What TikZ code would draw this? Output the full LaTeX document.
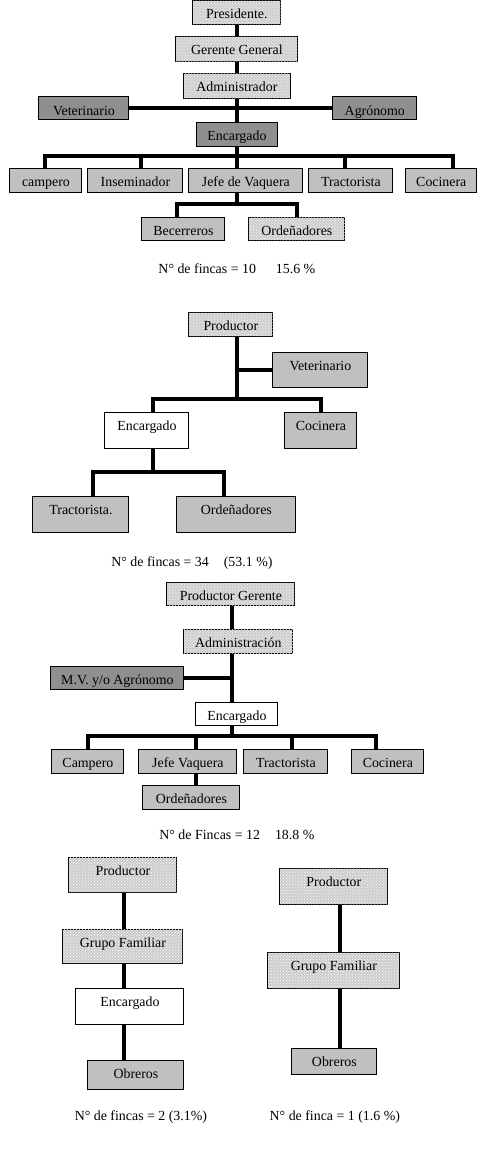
\documentclass[tikz,border=0pt]{standalone}
\usepackage{fontspec}
\setmainfont{Liberation Serif}
\usetikzlibrary{patterns}
\definecolor{dotgray}{RGB}{205,205,205}
\definecolor{midgray}{RGB}{192,192,192}
\definecolor{deepgray}{RGB}{143,143,143}

\begin{document}
\begin{tikzpicture}[x=1pt, y=-1pt,
    unit/.style={draw, line width=1pt, inner sep=0pt, text height=18.5pt, font=\fontsize{13.9}{16}\selectfont},
    dotbox/.style={unit, fill=dotgray, postaction={pattern=crosshatch dots, pattern color=white}},
    greybox/.style={unit, fill=midgray},
    darkbox/.style={unit, fill=deepgray},
    plainbox/.style={unit, fill=white},
    link/.style={line width=4pt, line join=miter},
    caption/.style={font=\fontsize{13.9}{16}\selectfont}]

            \fill[white] (0,0) rectangle (480,1150);

            \node[dotbox, minimum width=88pt, text depth=5.5pt] (pres) at (237,12) {Presidente.};
            \node[dotbox, minimum width=122pt, text depth=6.5pt] (ger) at (237,48.5) {Gerente General};
            \node[dotbox, minimum width=107pt, text depth=6.5pt] (adm) at (237,85.5) {Administrador};
            \node[darkbox, minimum width=90pt, text depth=4.5pt] (vet1) at (84,108) {Veterinario};
            \node[darkbox, minimum width=84pt, text depth=4.5pt] (agr1) at (375,108) {Agrónomo};
            \node[darkbox, minimum width=81pt, text depth=5.5pt] (enc1) at (237,134) {Encargado};
            \node[greybox, minimum width=72pt, text depth=5.5pt] (camp1) at (46,180) {campero};
            \node[greybox, minimum width=95pt, text depth=5.5pt] (insem) at (135.5,180) {Inseminador};
            \node[greybox, minimum width=114pt, text depth=5.5pt] (jefe1) at (246,180) {Jefe de Vaquera};
            \node[greybox, minimum width=84pt, text depth=5.5pt] (trac1) at (351,180) {Tractorista};
            \node[greybox, minimum width=71pt, text depth=5.5pt] (coc1) at (441.5,180) {Cocinera};
            \node[greybox, minimum width=83pt, text depth=4.5pt] (bec) at (183.5,228.5) {Becerreros};
            \node[dotbox, minimum width=96pt, text depth=4.5pt] (ord1) at (297,228.5) {Ordeñadores};
            \node[caption] (cap1) at (237,268) {N° de fincas = 10\hspace{20pt}15.6 \%};

            \coordinate (b1) at (237,156);
            \coordinate (b1j) at (237,204);
            \draw[link] (pres) -- (ger);
            \draw[link] (ger) -- (adm);
            \draw[link] (adm) -- (enc1);
            \draw[link] (vet1) -- (agr1);
            \draw[link] (enc1) -- (b1);
            \draw[link] (b1) -| ([xshift=-1pt]camp1.north);
            \draw[link] (b1) -| ([xshift=5.5pt]insem.north);
            \draw[link] (b1) -| ([xshift=-9pt]jefe1.north);
            \draw[link] (b1) -| ([xshift=-6pt]trac1.north);
            \draw[link] (b1) -| ([xshift=11.5pt]coc1.north);
            \draw[link] ([xshift=-9pt]jefe1.south) -- (b1j);
            \draw[link] (b1j) -| ([xshift=-6.5pt]bec.north);
            \draw[link] (b1j) -| (ord1.north);

            \node[dotbox, minimum width=84pt, text depth=5.5pt] (prod2) at (231,324) {Productor};
            \node[greybox, minimum width=95pt, text depth=16.5pt] (vet2) at (320.5,369.5) {Veterinario};
            \node[plainbox, minimum width=84pt, text depth=17.5pt] (enc2) at (147,430) {Encargado};
            \node[greybox, minimum width=72pt, text depth=17.5pt] (coc2) at (321,430) {Cocinera};
            \node[greybox, minimum width=96pt, text depth=17.5pt] (trac2) at (81,514) {Tractorista.};
            \node[greybox, minimum width=119pt, text depth=17.5pt] (ord2) at (236.5,514) {Ordeñadores};
            \node[caption] (cap2) at (192,563) {N° de fincas = 34\hspace{15pt}(53.1 \%)};

            \coordinate (b2) at (237,399);
            \coordinate (b2e) at (153,472);
            \draw[link] ([xshift=6pt]prod2.south) -- (b2);
            \draw[link] (vet2) -- (vet2 -| b2);
            \draw[link] (b2) -| ([xshift=6pt]enc2.north);
            \draw[link] (b2) -| (coc2.north);
            \draw[link] ([xshift=6pt]enc2.south) -- (b2e);
            \draw[link] (b2e) -| ([xshift=12pt]trac2.north);
            \draw[link] (b2e) -| ([xshift=-12.5pt]ord2.north);

            \node[dotbox, minimum width=128pt, text depth=4.5pt] (pg3) at (231,593.5) {Productor Gerente};
            \node[dotbox, minimum width=109pt, text depth=5.5pt] (adm3) at (238.5,641) {Administración};
            \node[darkbox, minimum width=133pt, text depth=4.5pt] (mv3) at (117.5,677.5) {M.V. y/o Agrónomo};
            \node[plainbox, minimum width=82pt, text depth=4.5pt] (enc3) at (237,713.5) {Encargado};
            \node[greybox, minimum width=72pt, text depth=5.5pt] (camp3) at (88,761) {Campero};
            \node[greybox, minimum width=98pt, text depth=5.5pt] (jefe3) at (188,761) {Jefe Vaquera};
            \node[greybox, minimum width=84pt, text depth=5.5pt] (trac3) at (286,761) {Tractorista};
            \node[greybox, minimum width=72pt, text depth=5.5pt] (coc3) at (388,761) {Cocinera};
            \node[greybox, minimum width=97pt, text depth=5.5pt] (ord3) at (191.5,797) {Ordeñadores};
            \node[caption] (cap3) at (237,835) {N° de Fincas = 12\hspace{15pt}18.8 \%};

            \coordinate (b3) at (232,736);
            \draw[link] ([xshift=1pt]pg3.south) -- ([xshift=-6.5pt]adm3.north);
            \draw[link] ([xshift=-6.5pt]adm3.south) -- ([xshift=-5pt]enc3.north);
            \draw[link] (mv3) -- (mv3 -| b3);
            \draw[link] ([xshift=-5pt]enc3.south) -- (b3);
            \draw[link] (b3) -| (camp3.north);
            \draw[link] (b3) -| ([xshift=8pt]jefe3.north);
            \draw[link] (b3) -| ([xshift=6pt]trac3.north);
            \draw[link] (b3) -| ([xshift=-12pt]coc3.north);
            \draw[link] ([xshift=8pt]jefe3.south) -- ([xshift=4.5pt]ord3.north);

            \node[dotbox, minimum width=108pt, text depth=16.5pt] (prod4) at (123,874.5) {Productor};
            \node[dotbox, minimum width=120pt, text depth=15.5pt] (gf4) at (123,946) {Grupo Familiar};
            \node[plainbox, minimum width=108pt, text depth=17.5pt] (enc4) at (130,1006) {Encargado};
            \node[greybox, minimum width=96pt, text depth=10.5pt] (obr4) at (136,1074.5) {Obreros};
            \node[caption] (cap4) at (141,1117) {N° de fincas = 2 (3.1\%)};

            \node[dotbox, minimum width=108pt, text depth=17.5pt] (prod5) at (334,886) {Productor};
            \node[dotbox, minimum width=132pt, text depth=17.5pt] (gf5) at (334,970) {Grupo Familiar};
            \node[greybox, minimum width=85pt, text depth=7.5pt] (obr5) at (334.5,1061) {Obreros};
            \node[caption] (cap5) at (335,1117) {N° de finca = 1 (1.6 \%)};

            \draw[link] ([xshift=1pt]prod4.south) -- ([xshift=1pt]gf4.north);
            \draw[link] ([xshift=1pt]gf4.south) -- ([xshift=-6pt]enc4.north);
            \draw[link] ([xshift=-6pt]enc4.south) -- ([xshift=-12pt]obr4.north);
            \draw[link] ([xshift=6pt]prod5.south) -- ([xshift=6pt]gf5.north);
            \draw[link] ([xshift=6pt]gf5.south) -- ([xshift=5.5pt]obr5.north);

        \end{tikzpicture}
\end{document}
